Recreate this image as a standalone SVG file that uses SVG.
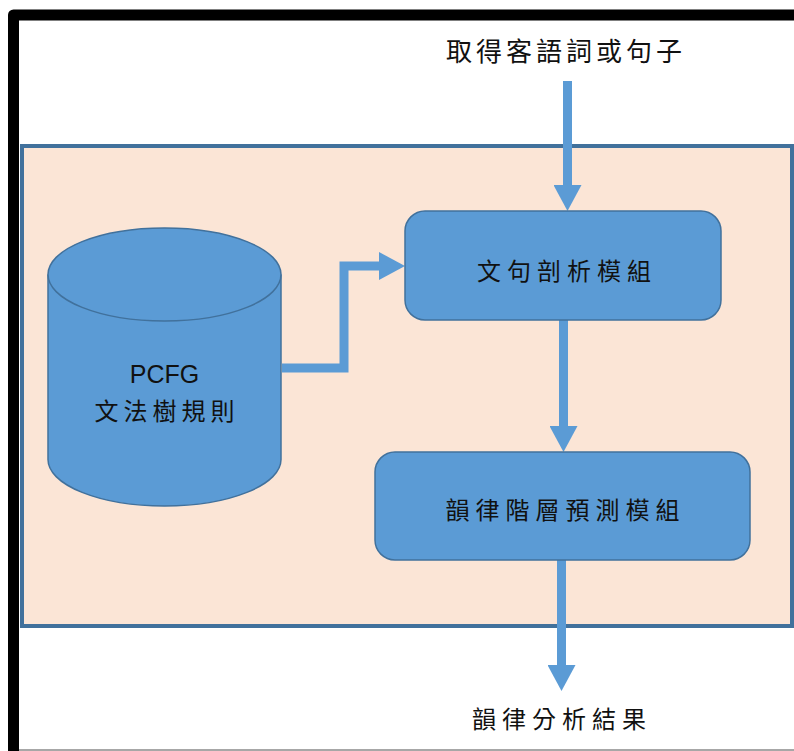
<svg xmlns="http://www.w3.org/2000/svg" width="794" height="751" viewBox="0 0 794 751">
  <defs>
    <style>
      .frame { fill: none; stroke: #000; stroke-width: 11; stroke-linejoin: round; }
      .panel { fill: #FBE5D6; stroke: #41719C; stroke-width: 4; }
      .node { fill: #5B9BD5; stroke: #41719C; stroke-width: 1.5; }
      .flow { fill: none; stroke: #5B9BD5; stroke-width: 9; marker-end: url(#head); }
      .cjk { font-family: "Noto Sans CJK TC", "Noto Sans CJK SC", sans-serif; fill: #111; text-anchor: middle; dominant-baseline: central; }
      .latin { font-family: "Liberation Sans", Arial, sans-serif; fill: #111; text-anchor: middle; }
    </style>
    <marker id="head" viewBox="0 0 26 28" markerWidth="26" markerHeight="28" refX="0" refY="14" orient="auto" markerUnits="userSpaceOnUse">
      <path d="M0 0 L26 14 L0 28 Z" fill="#5B9BD5"/>
    </marker>
  </defs>

  <rect width="794" height="751" fill="#fff"/>

  <!-- outer page frame -->
  <path class="frame" d="M13.5 770 V15 H820"/>
  <line x1="19" y1="750" x2="794" y2="750" stroke="#8a8a8a" stroke-width="1.5"/>

  <!-- system panel -->
  <rect class="panel" x="22" y="146" width="770" height="480"/>

  <!-- connectors -->
  <g id="connectors">
    <path class="flow" d="M567.5 81 V185"/>
    <path class="flow" d="M282 368 H344 V266 H379"/>
    <path class="flow" d="M563.5 320 V426"/>
    <path class="flow" d="M561.5 560 V665"/>
  </g>

  <!-- input label -->
  <g id="input">
    <text class="cjk" x="566" y="49" font-size="26" letter-spacing="4">取得客語詞或句子</text>
  </g>

  <!-- grammar rule store -->
  <g id="pcfg">
    <path class="node" d="M48 274.5 V459.5 A116.5 46.5 0 0 0 281 459.5 V274.5"/>
    <ellipse class="node" cx="164.5" cy="274.5" rx="116.5" ry="46.5"/>
    <text class="latin" x="164.5" y="383" font-size="25">PCFG</text>
    <text class="cjk" x="167" y="409" font-size="24" letter-spacing="5">文法樹規則</text>
  </g>

  <!-- sentence parsing module -->
  <g id="parser">
    <rect class="node" x="405" y="211" width="316" height="109" rx="20"/>
    <text class="cjk" x="567" y="269" font-size="24" letter-spacing="6">文句剖析模組</text>
  </g>

  <!-- prosodic hierarchy prediction module -->
  <g id="prosody">
    <rect class="node" x="375" y="452" width="375" height="108" rx="20"/>
    <text class="cjk" x="565.5" y="508" font-size="24" letter-spacing="6">韻律階層預測模組</text>
  </g>

  <!-- output label -->
  <g id="output">
    <text class="cjk" x="562" y="717.5" font-size="24" letter-spacing="6">韻律分析結果</text>
  </g>
</svg>
